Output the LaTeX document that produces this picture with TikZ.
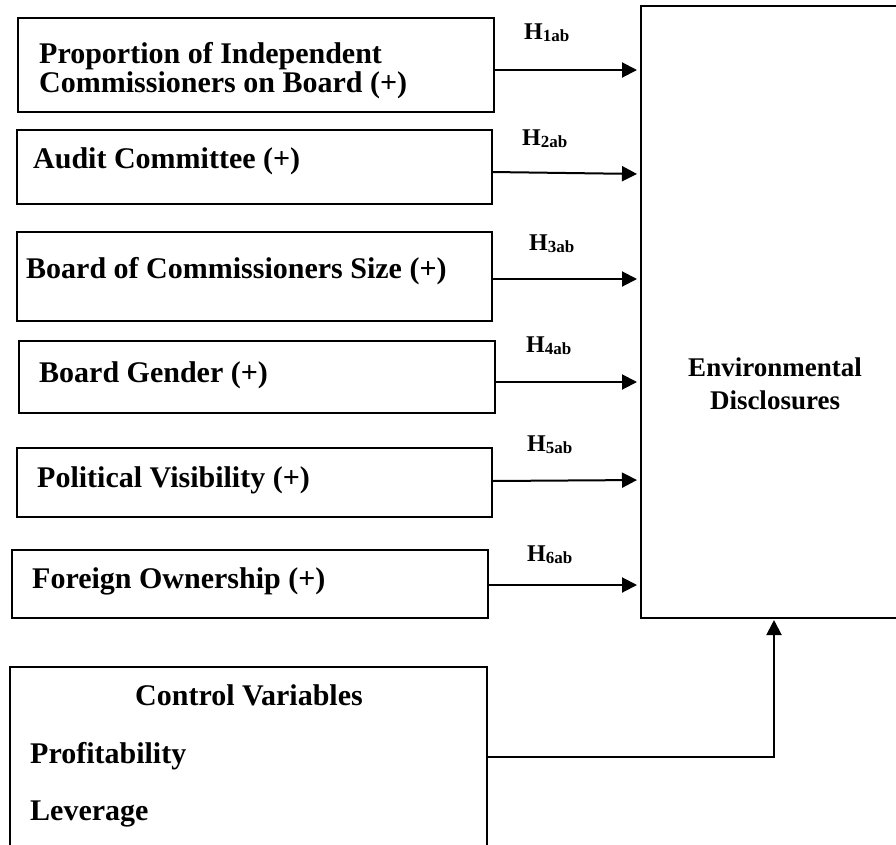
\documentclass[tikz,border=0pt]{standalone}
\usepackage{fontspec}
\setmainfont{Liberation Serif}
\usetikzlibrary{arrows.meta}
\newcommand{\hlab}[1]{\fontsize{24}{24}\selectfont\bfseries H\raisebox{-2.5pt}{\fontsize{17}{17}\selectfont #1}}
\begin{document}
\begin{tikzpicture}[x=1pt,y=-1pt,
  box/.style={draw=black, line width=2pt, inner sep=0pt, outer sep=0pt, fill=none},
  txt/.style={anchor=base west, inner sep=0pt, font=\fontsize{30}{30}\selectfont\bfseries},
  hl/.style={anchor=base west, inner sep=0pt},
  arr/.style={line width=2pt, -{Triangle[length=15pt,width=15pt]}, shorten >=4pt}]
\useasboundingbox (0,0) rectangle (896,844);
\clip (0,0) rectangle (896,844);
\fill[white] (0,0) rectangle (896,844);
% boxes
\node[box, minimum width=476pt, minimum height=94pt] (b1) at (256,65) {};
\node[box, minimum width=475pt, minimum height=74pt] (b2) at (254.5,167) {};
\node[box, minimum width=475pt, minimum height=89pt] (b3) at (254.5,276.5) {};
\node[box, minimum width=476pt, minimum height=72pt] (b4) at (257,377) {};
\node[box, minimum width=475pt, minimum height=69pt] (b5) at (254.5,482.5) {};
\node[box, minimum width=476pt, minimum height=68pt] (b6) at (250,584) {};
\node[box, minimum width=477pt, minimum height=233pt] (ctrl) at (248.5,783.5) {};
\node[box, minimum width=359pt, minimum height=612pt] (env) at (820.5,312) {};
% texts
\node[txt] (t1a) at (39,63) {Proportion of Independent};
\node[txt] (t1b) at (39,92) {Commissioners on Board (+)};
\node[txt] (t2) at (33,168) {Audit Committee (+)};
\node[txt] (t3) at (26,278) {Board of Commissioners Size (+)};
\node[txt] (t4) at (39,382) {Board Gender (+)};
\node[txt] (t5) at (37,487) {Political Visibility (+)};
\node[txt] (t6) at (32,588) {Foreign Ownership (+)};
\node[txt, anchor=base] (tc) at (249,705) {Control Variables};
\node[txt] (tp) at (30,763) {Profitability};
\node[txt] (tl) at (30,820) {Leverage};
\node[anchor=base, inner sep=0pt, align=center, font=\fontsize{27}{33}\selectfont\bfseries] (te) at (775,409) {Environmental\\Disclosures};
% hypothesis labels
\node[hl] (h1) at (524,39) {\hlab{1ab}};
\node[hl] (h2) at (522,145) {\hlab{2ab}};
\node[hl] (h3) at (529,250) {\hlab{3ab}};
\node[hl] (h4) at (526,352) {\hlab{4ab}};
\node[hl] (h5) at (527,451) {\hlab{5ab}};
\node[hl] (h6) at (527,561) {\hlab{6ab}};
% arrows
\draw[arr] (b1.east |- 0,70) -- (env.west |- 0,70);
\draw[arr] (b2.east |- 0,172) -- (env.west |- 0,174);
\draw[arr] (b3.east |- 0,279) -- (env.west |- 0,279);
\draw[arr] (b4.east |- 0,382) -- (env.west |- 0,382);
\draw[arr] (b5.east |- 0,481) -- (env.west |- 0,480);
\draw[arr] (b6.east |- 0,585) -- (env.west |- 0,585);
\coordinate (cj) at (774,757);
\draw[arr, shorten >=2pt] (ctrl.east |- cj) -- (cj) -- (env.south -| cj);
\end{tikzpicture}
\end{document}
